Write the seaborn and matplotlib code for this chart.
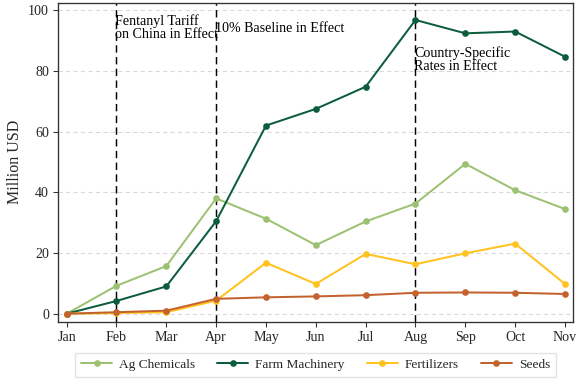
import matplotlib
matplotlib.use("Agg")
import matplotlib.pyplot as plt
import seaborn as sns
import pandas as pd

months = ["Jan", "Feb", "Mar", "Apr", "May", "Jun", "Jul", "Aug", "Sep", "Oct", "Nov"]
ag_chemicals = [0.0, 9.2, 15.7, 38.0, 31.3, 22.6, 30.4, 36.3, 49.4, 40.7, 34.5]
farm_machinery = [0.0, 4.2, 9.0, 30.5, 62.0, 67.5, 74.8, 96.8, 92.4, 93.0, 84.7]
fertilizers = [0.0, 0.2, 0.5, 4.3, 16.8, 9.8, 19.7, 16.3, 19.9, 23.1, 9.8]
seeds = [0.0, 0.5, 1.0, 4.9, 5.4, 5.7, 6.1, 6.9, 7.0, 6.9, 6.5]
series_names = ["Ag Chemicals", "Farm Machinery", "Fertilizers", "Seeds"]
colors = ["#9cc172", "#0b5d3b", "#ffc21f", "#c4622d"]
events = [("Feb", "Fentanyl Tariff\non China in Effect", 98.8),
          ("Apr", "10% Baseline in Effect", 96.3),
          ("Aug", "Country-Specific\nRates in Effect", 88.3)]

rows = []
for name, vals in zip(series_names, [ag_chemicals, farm_machinery, fertilizers, seeds]):
    for i, (m, v) in enumerate(zip(months, vals)):
        rows.append({"idx": i, "Month": m, "Value": v, "Series": name})
df = pd.DataFrame(rows)

sns.set_theme(style="white")
plt.rcParams["font.family"] = ["Liberation Serif", "DejaVu Serif"]

fig = plt.figure(figsize=(6, 4), dpi=96)
ax = fig.add_axes([0.1012, 0.1622, 0.8941, 0.8308])

grid_ticks = [0, 20, 40, 60, 80, 100]
for t in grid_ticks:
    ax.axhline(t, color="#d9d9d9", lw=0.8, ls=(0, (4, 3)), zorder=0)

sns.lineplot(data=df, x="idx", y="Value", hue="Series", palette=colors,
             hue_order=series_names, marker="o", markersize=5, markeredgewidth=0,
             linewidth=1.5, ax=ax, legend=True, zorder=3)

for m, label, ytxt in events:
    xi = months.index(m)
    ax.axvline(xi, color="black", lw=1.1, ls=(0, (5, 3)), zorder=2)
    ax.text(xi - 0.02, ytxt, label, fontsize=10.5, va="top", ha="left",
            color="black", linespacing=1.0, zorder=4)

ax.set_xlim(-0.168, 10.167)
ax.set_ylim(-2.64, 102.5)
ax.set_xticks(range(len(months)))
ax.set_xticklabels(months, fontsize=10.5)
ax.set_yticks(grid_ticks)
ax.set_yticklabels([str(t) for t in grid_ticks], fontsize=10.5)
ax.set_xlabel("")
ax.set_ylabel("Million USD", fontsize=12, labelpad=4)
ax.tick_params(axis="both", length=4, width=0.8, color="#333333", pad=3,
               bottom=True, left=True)
for s in ax.spines.values():
    s.set_color("#333333")
    s.set_linewidth(1.0)

handles, labels = ax.get_legend_handles_labels()
ax.legend(handles, labels, loc="upper center", bbox_to_anchor=(0.5, -0.097),
          ncol=4, frameon=True, fontsize=10, fancybox=False,
          edgecolor="#dddddd", handlelength=2.3, handletextpad=0.55,
          columnspacing=1.65, borderpad=0.45, borderaxespad=0)

fig.savefig("out.png", dpi=96)
